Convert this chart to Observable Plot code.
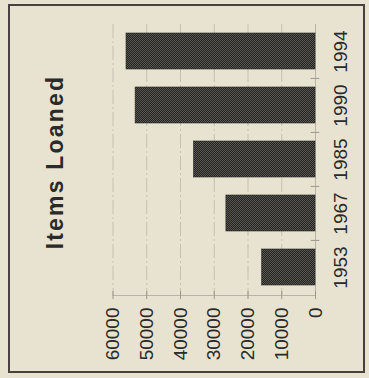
<!DOCTYPE html>
<html>
<head>
<meta charset="utf-8">
<script src="https://cdn.jsdelivr.net/npm/d3@7"></script>
<script src="https://cdn.jsdelivr.net/npm/@observablehq/plot@0.6"></script>
<style>
  html, body { margin: 0; padding: 0; background: #e8e3d0; }
  #wrap { position: relative; width: 369px; height: 378px; overflow: hidden; }
  #border { position: absolute; left: 8px; top: 4px; width: 357px; height: 369px;
            border: 2px solid #4a4040; box-sizing: border-box; pointer-events: none; }
  svg { font-family: "Liberation Sans", Arial, sans-serif; }
  .title-text text { letter-spacing: 2.2px; }
</style>
</head>
<body>
<div id="wrap"><div id="border"></div></div>
<script>
const title = "Items Loaned";
const years = ["1994", "1990", "1985", "1967", "1953"];
const loans = [56000, 53300, 36000, 26400, 15800];
const valueTicks = [0, 10000, 20000, 30000, 40000, 50000, 60000];
const boundaryYears = ["1990", "1985", "1967", "1953"];

const data = years.map((y, i) => ({year: y, value: loans[i]}));

const plot = Plot.plot({
  width: 369,
  height: 378,
  marginLeft: 112.5,
  marginRight: 54,
  marginTop: 24,
  marginBottom: 83,
  style: {background: "#e8e3d0", fontFamily: "Liberation Sans, Arial, sans-serif"},
  x: {domain: [0, 60000], reverse: true, axis: null},
  y: {domain: years, range: [15, 304], padding: 0.33, axis: null},
  marks: [
    Plot.ruleX(valueTicks.filter(d => d > 0), {x: d => d, stroke: "#c4c0b2", strokeWidth: 1, strokeDasharray: "14,3,2,3"}),
    Plot.frame({anchor: "bottom", stroke: "#b8b3a6"}),
    Plot.frame({anchor: "right", stroke: "#b8b3a6"}),
    Plot.tickX(valueTicks, {x: d => d, insetTop: 267, insetBottom: -4, stroke: "#9a968a"}),
    Plot.ruleY(boundaryYears, {y: d => d, x1: 1300, x2: -1300, dy: -27.1, stroke: "#9a968a"}),
    Plot.barX(data, {y: "year", x: "value", fill: "url(#halftone)", stroke: "#262523", strokeWidth: 0.6}),
    Plot.text(valueTicks, {x: d => d, text: d => String(d), frameAnchor: "bottom", dy: 12, rotate: -90, textAnchor: "end", lineAnchor: "middle", fontSize: 19, fill: "#2a2a2a"}),
    Plot.text(years, {y: d => d, frameAnchor: "right", dx: 18, rotate: -90, textAnchor: "middle", lineAnchor: "top", fontSize: 19, fill: "#2a2a2a"}),
    Plot.text([title], {frameAnchor: "left", dx: -57, dy: 2, rotate: -90, textAnchor: "middle", lineAnchor: "middle", fontSize: 23, fontWeight: "bold", fill: "#2a2a2a", className: "title-text"})
  ]
});

const svg = d3.select(plot);
const defs = svg.insert("defs", ":first-child");
const pat = defs.append("pattern").attr("id", "halftone").attr("patternUnits", "userSpaceOnUse")
  .attr("width", 2).attr("height", 2);
pat.append("rect").attr("width", 2).attr("height", 2).attr("fill", "#262523");
pat.append("rect").attr("x", 0).attr("y", 0).attr("width", 1).attr("height", 1).attr("fill", "#57554f");
pat.append("rect").attr("x", 1).attr("y", 1).attr("width", 1).attr("height", 1).attr("fill", "#57554f");

document.getElementById("wrap").insertBefore(plot, document.getElementById("border"));
</script>
</body>
</html>
